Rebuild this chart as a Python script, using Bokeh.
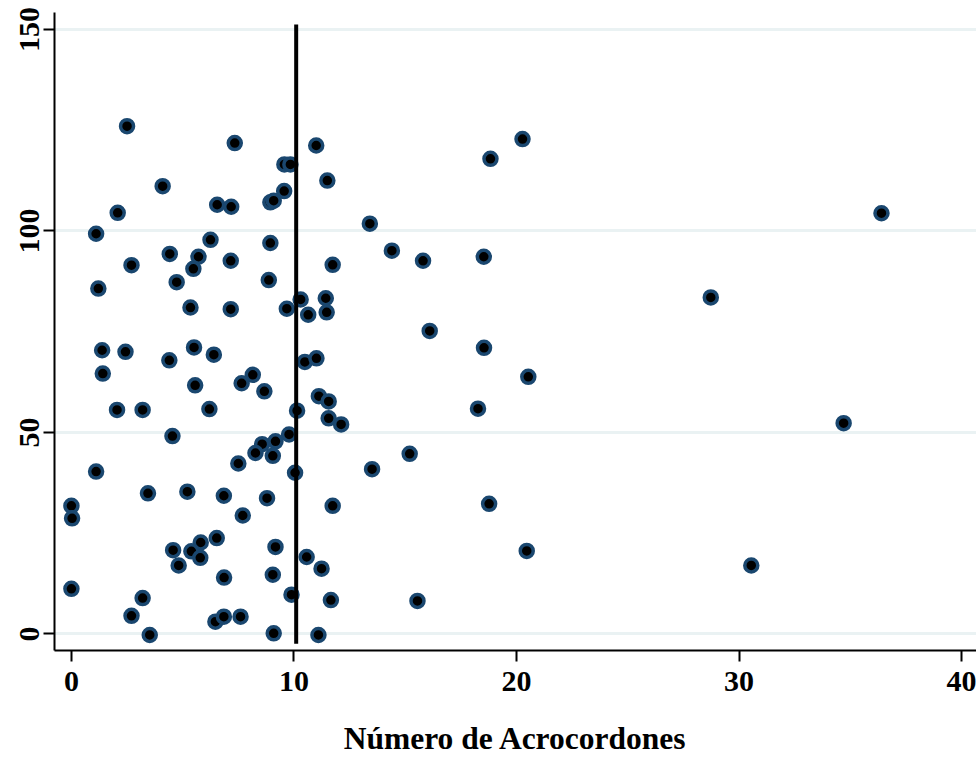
from bokeh.plotting import figure
from bokeh.models import Range1d, FixedTicker, ColumnDataSource
from bokeh.embed import file_html
from bokeh.resources import INLINE

acrocordones = [2.5, 7.34, 11.0, 9.57, 9.84, 4.1, 11.5, 9.56, 8.94, 9.09, 6.55, 7.18, 2.08, 1.11, 6.25, 8.94,
                4.42, 5.71, 2.7, 7.16, 5.48, 11.74, 4.73, 8.87, 1.21, 5.35, 7.16, 9.68, 10.3, 10.64, 11.43, 11.47,
                13.41, 14.4, 15.8, 18.53, 18.83, 20.27, 16.1, 36.4, 28.73, 18.54, 20.53, 18.27, 34.7, 15.2,
                18.77, 20.46, 30.55, 15.55, 8.15, 7.65, 8.67, 10.49, 11.01, 11.12, 11.56, 10.14, 11.56, 12.12,
                9.78, 8.57, 9.17, 8.27, 9.05, 7.5, 10.05, 13.51, 8.79, 7.7, 11.74, 9.17, 10.57, 11.24, 9.05,
                9.89, 11.66, 7.6, 9.09, 11.1, 1.38, 2.43, 5.51, 6.4, 4.4, 1.41, 5.56, 2.05, 3.2, 6.2, 4.54,
                1.11, 0.0, 0.03, 3.44, 5.21, 6.85, 6.53, 5.81, 4.57, 5.39, 5.79, 4.82, 6.86, 0.0, 3.2, 2.7,
                6.47, 6.85, 3.52]
valores_y = [126.0, 121.8, 121.2, 116.5, 116.5, 111.1, 112.5, 109.9, 107.1, 107.5, 106.5, 106.0, 104.5, 99.3, 97.8, 97.0,
             94.3, 93.6, 91.5, 92.6, 90.6, 91.6, 87.3, 87.8, 85.7, 81.0, 80.6, 80.7, 83.0, 79.2, 83.3, 79.8,
             101.8, 95.1, 92.6, 93.6, 117.9, 122.8, 75.2, 104.4, 83.5, 71.0, 63.8, 55.9, 52.3, 44.7,
             32.3, 20.6, 17.0, 8.2, 64.3, 62.2, 60.2, 67.5, 68.4, 59.0, 57.7, 55.4, 53.5, 52.0,
             49.5, 47.1, 47.8, 44.9, 44.2, 42.3, 40.0, 40.9, 33.7, 29.4, 31.8, 21.6, 19.1, 16.2, 14.7,
             9.75, 8.4, 4.3, 0.15, -0.25, 70.4, 70.0, 71.1, 69.3, 67.9, 64.6, 61.7, 55.6, 55.6, 55.8, 49.1,
             40.3, 31.8, 28.7, 34.9, 35.3, 34.3, 23.8, 22.7, 20.8, 20.5, 18.9, 17.0, 14.0, 11.2, 8.9, 4.5,
             3.05, 4.3, -0.25]

media_x = 10.1
linea_y = [-2.4, 151.2]
x_ticks = [0, 10, 20, 30, 40]
y_ticks = [0, 50, 100, 150]
x_title = "Número de Acrocordones"

FONT = "Liberation Serif"

p = figure(width=976, height=758, output_backend="svg", toolbar_location=None,
           x_range=Range1d(-0.76, 40.67), y_range=Range1d(-4.1, 154.2),
           min_border_left=54, min_border_right=0, min_border_top=12, min_border_bottom=108)
p.outline_line_color = None
p.background_fill_color = "white"

p.xgrid.grid_line_color = None
p.ygrid.ticker = FixedTicker(ticks=y_ticks)
p.ygrid.grid_line_color = "#eaf2f3"
p.ygrid.grid_line_width = 3

for ax in (p.xaxis[0], p.yaxis[0]):
    ax.axis_line_color = "black"
    ax.axis_line_width = 2
    ax.major_tick_line_color = "black"
    ax.major_tick_line_width = 2
    ax.major_tick_out = 11
    ax.major_tick_in = 0
    ax.minor_tick_line_color = None
    ax.major_label_text_font = FONT
    ax.major_label_text_font_style = "bold"
    ax.major_label_text_font_size = "30px"
    ax.major_label_text_color = "black"

p.xaxis.ticker = FixedTicker(ticks=x_ticks)
p.yaxis.ticker = FixedTicker(ticks=y_ticks)
p.yaxis.major_label_orientation = "vertical"
p.xaxis.major_label_standoff = 10
p.yaxis.major_label_standoff = 4

p.xaxis.axis_label = x_title
p.xaxis.axis_label_text_font = FONT
p.xaxis.axis_label_text_font_style = "bold"
p.xaxis.axis_label_text_font_size = "31.5px"
p.xaxis.axis_label_text_color = "black"
p.xaxis.axis_label_standoff = 27

src = ColumnDataSource(dict(x=acrocordones, y=valores_y))
p.scatter("x", "y", source=src, size=13, fill_color="black", line_color="#1a476f", line_width=3.5)

p.segment(x0=[media_x], y0=[linea_y[0]], x1=[media_x], y1=[linea_y[1]], line_color="black", line_width=4)

open("out.html", "w").write(file_html(p, INLINE))
